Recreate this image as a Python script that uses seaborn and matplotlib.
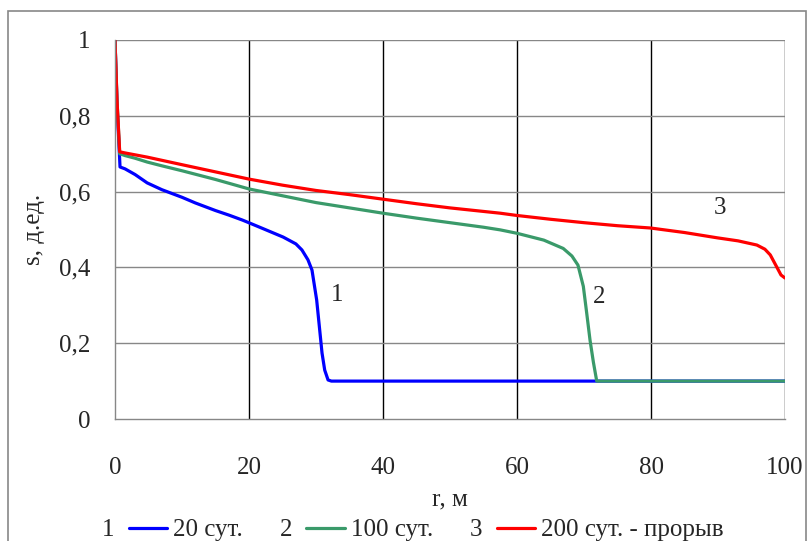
import matplotlib
matplotlib.use("Agg")
import matplotlib.pyplot as plt
import seaborn as sns
import pandas as pd
from matplotlib.patches import Rectangle
from matplotlib.ticker import FuncFormatter

# ---- data ----
r_20 = [0, 0.3, 0.75, 1.5, 3, 4.8, 7, 10, 12, 15, 17, 19, 20.1, 22, 25.1, 27, 27.9,
        28.8, 29.4, 30.1, 30.9, 31.3, 31.8, 32.3, 40, 60, 80, 100]
s_20 = [1, 0.83, 0.665, 0.66, 0.645, 0.623, 0.605, 0.585, 0.57, 0.55, 0.538, 0.525,
        0.517, 0.503, 0.48, 0.462, 0.446, 0.42, 0.393, 0.314, 0.174, 0.129, 0.103,
        0.1, 0.1, 0.1, 0.1, 0.1]

r_100 = [0, 0.3, 0.7, 1.5, 3, 4.8, 7, 10, 15, 20, 25, 30, 35, 40, 45, 50, 55, 57.5,
         60, 64, 66.9, 68.2, 69.1, 69.9, 70.4, 70.9, 71.4, 71.9, 80, 100]
s_100 = [1, 0.84, 0.70, 0.695, 0.688, 0.678, 0.668, 0.655, 0.632, 0.607, 0.589, 0.571,
         0.557, 0.543, 0.53, 0.518, 0.506, 0.499, 0.49, 0.472, 0.45, 0.43, 0.406, 0.35,
         0.28, 0.208, 0.15, 0.10, 0.1, 0.1]

r_200 = [0, 0.3, 0.7, 1.5, 3, 4.8, 10, 15, 20, 25, 30, 35, 40, 45, 50, 57.5, 60, 65,
         70, 75, 79.9, 85, 89.9, 93, 95.8, 97, 97.8, 98.8, 99.4, 100]
s_200 = [1, 0.84, 0.705, 0.702, 0.697, 0.691, 0.671, 0.652, 0.633, 0.617, 0.603, 0.592,
         0.58, 0.568, 0.557, 0.543, 0.537, 0.527, 0.518, 0.51, 0.504, 0.492, 0.478,
         0.47, 0.459, 0.448, 0.433, 0.40, 0.38, 0.372]

series_labels = ["20 сут.", "100 сут.", "200 сут. - прорыв"]
series_nums = ["1", "2", "3"]
colors = ["#0000FF", "#3A9A6A", "#FF0000"]
x_ticks = [0, 20, 40, 60, 80, 100]
y_ticks = [0, 0.2, 0.4, 0.6, 0.8, 1.0]
curve_tags = [("1", 33.1, 0.327), ("2", 72.2, 0.322), ("3", 90.3, 0.557)]

# ---- style ----
sns.set_style("white")
plt.rcParams["font.family"] = ["Liberation Serif", "DejaVu Serif"]
FS = 18
GRAY = "#878787"

fig = plt.figure(figsize=(8.07, 5.41), dpi=100)
ax = fig.add_axes([115 / 807, 1 - 419 / 541, 670 / 807, 379 / 541])

for rr, ss, lab, col in zip([r_20, r_100, r_200], [s_20, s_100, s_200],
                            series_labels, colors):
    df = pd.DataFrame({"r": rr, "s": ss})
    sns.lineplot(data=df, x="r", y="s", ax=ax, color=col, lw=2.3, label=lab,
                 sort=False, estimator=None)

ax.set_xlim(0, 100)
ax.set_ylim(0, 1)
ax.set_xticks(x_ticks)
ax.set_yticks(y_ticks)
ax.xaxis.set_major_formatter(FuncFormatter(lambda v, p: f"{v:g}"))
ax.yaxis.set_major_formatter(FuncFormatter(lambda v, p: f"{v:g}".replace(".", ",")))
ax.tick_params(axis="both", direction="out", length=7.5, width=1, color=GRAY,
               labelsize=FS)
ax.tick_params(axis="y", pad=10)
ax.tick_params(axis="x", pad=20)

# grid
for xv in x_ticks[1:]:
    ax.axvline(xv, color="black", lw=1, zorder=0.5)
for yv in y_ticks[1:]:
    ax.axhline(yv, color=GRAY, lw=1, zorder=0.5)

for side in ["top", "right"]:
    ax.spines[side].set_visible(False)
for side in ["left", "bottom"]:
    ax.spines[side].set_color(GRAY)
    ax.spines[side].set_linewidth(1)

ax.set_xlabel("r, м", fontsize=FS, labelpad=7)
ax.set_ylabel("s, д.ед.", fontsize=FS, labelpad=10)

for t, xr, ys in curve_tags:
    ax.text(xr, ys, t, fontsize=FS, ha="center", va="center")

leg = ax.legend(loc="center", bbox_to_anchor=(426 / 807, 1 - 530 / 541),
                bbox_transform=fig.transFigure, ncol=3, frameon=False,
                fontsize=FS, handlelength=1.55, handletextpad=0.22,
                columnspacing=2.55, borderpad=0, borderaxespad=0)

fig.canvas.draw()
renderer = fig.canvas.get_renderer()
for h, txt, num in zip(leg.legend_handles, leg.get_texts(), series_nums):
    bb = h.get_window_extent(renderer)
    tb = txt.get_window_extent(renderer)
    x0 = bb.x0 / fig.bbox.width
    yb = tb.y0 / fig.bbox.height
    fig.text(x0 - 14 / 807, yb, num, fontsize=FS, ha="right", va="bottom")

fig.patches.append(Rectangle((8 / 807, -0.01), 798 / 807, 1 - 11 / 541 + 0.01,
                             transform=fig.transFigure, fill=False,
                             edgecolor=GRAY, lw=1.2))

fig.savefig("out.png", dpi=100)
